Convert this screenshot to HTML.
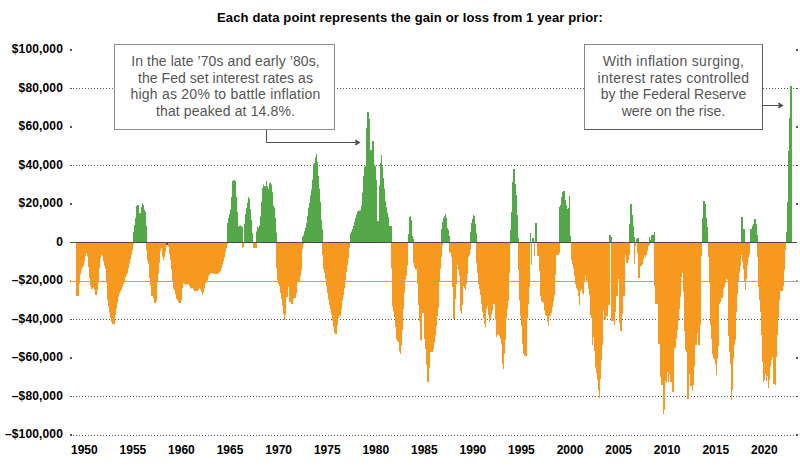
<!DOCTYPE html>
<html><head><meta charset="utf-8"><style>
html,body{margin:0;padding:0;background:#fff;}
body{width:800px;height:471px;overflow:hidden;position:relative;font-family:"Liberation Sans",sans-serif;}
.t{position:absolute;white-space:nowrap;}
.title{left:0;width:820px;text-align:center;top:9.6px;font-size:13px;font-weight:bold;color:#000;letter-spacing:0.13px;line-height:16px;}
.yl{position:absolute;right:737px;font-size:12px;font-weight:bold;color:#000;line-height:12px;white-space:nowrap;letter-spacing:0.15px;}
.xl{position:absolute;font-size:12px;font-weight:bold;color:#000;line-height:12px;top:444px;}
.box{position:absolute;border:1px solid #8e8e92;background:#fff;box-sizing:border-box;color:#555;font-size:14px;line-height:16.7px;text-align:center;}
svg{position:absolute;left:0;top:0;}
</style></head><body>
<svg width="800" height="471" viewBox="0 0 800 471">
<g fill="#575757">
<rect x="70" y="49" width="2" height="2"/><rect x="796" y="49" width="2" height="2"/>
<rect x="70" y="88" width="2" height="1"/><rect x="796" y="88" width="2" height="1"/>
<path d="M73 88.5H796" stroke="#575757" stroke-width="1" stroke-dasharray="1 2" fill="none"/>
<rect x="70" y="126" width="2" height="2"/><rect x="796" y="126" width="2" height="2"/>
<rect x="70" y="165" width="2" height="1"/><rect x="796" y="165" width="2" height="1"/>
<path d="M73 165.5H796" stroke="#575757" stroke-width="1" stroke-dasharray="1 2" fill="none"/>
<rect x="70" y="203" width="2" height="2"/><rect x="796" y="203" width="2" height="2"/>
<rect x="70" y="319" width="2" height="1"/><rect x="796" y="319" width="2" height="1"/>
<path d="M73 319.5H796" stroke="#575757" stroke-width="1" stroke-dasharray="1 2" fill="none"/>
<rect x="70" y="357" width="2" height="2"/><rect x="796" y="357" width="2" height="2"/>
<rect x="70" y="396" width="2" height="1"/><rect x="796" y="396" width="2" height="1"/>
<path d="M73 396.5H796" stroke="#575757" stroke-width="1" stroke-dasharray="1 2" fill="none"/>
<rect x="70" y="434" width="2" height="2"/><rect x="796" y="434" width="2" height="2"/>
<path d="M73 435.5H796" stroke="#575757" stroke-width="1" stroke-dasharray="1 2" fill="none"/>
</g>
<path d="M76 243V296H77V296H78V296H79V283.2H80V274.3H81V269.7H82V267.6H83V266.2H84V261.2H85V256.3H86V252.9H87V256.6H88V267.1H89V278H90V286H91V289H92V288.7H93V287H94V289.7H95V295H96V295H97V290H98V282.8H99V268H100V258.6H101V255H102V256.3H103V261.7H104V265.8H105V268.8H106V282.8H107V299.8H108V306.4H109V312.7H110V318H111V322H112V324H113V324H114V324H115V314.8H116V308.5H117V302.4H118V296.7H119V293.6H120V291.2H121V289.5H122V286.8H123V283.8H124V280.7H125V277.6H126V275.3H127V273.2H128V268.5H129V263.5H130V259.2H131V254.7H132V250H133V244.2H134V243ZM146 243V250.2H147V260.6H148V263.7H149V277.9H150V285.5H151V296H152V296H153V298H154V303H155V303H156V301H157V282.5H158V274H159V263H160V251H161V248H162V256.4H163V260H164V257.3H165V251.5H166V246.5H167V243.3H168V246.8H169V253.9H170V260.2H171V269.6H172V281.3H173V288.5H174V290.5H175V294.5H176V298.7H177V300H178V302H179V303H180V303H181V300H182V288H183V283H184V283.8H185V284.6H186V284.8H187V284.5H188V284.1H189V285.8H190V288.2H191V288.6H192V288.1H193V289.8H194V291H195V291H196V291H197V291H198V289.8H199V288.3H200V289.7H201V291.8H202V294.7H203V292.4H204V288.3H205V283.7H206V282.2H207V280.6H208V276.6H209V274.6H210V273.5H211V273H212V273H213V273.8H214V274H215V274H216V274H217V274H218V273.3H219V272.3H220V270.9H221V268H222V264.5H223V261.2H224V257.5H225V252.1H226V247.9H227V243.9H228V243ZM242 243V247.5H243V247.5H244V243ZM253 243V248H254V248H255V248H256V248H257V243ZM276 243V268H277V280H278V284H279V286H280V293H281V299H282V306H283V314H284V320H285V314.7H286V297H287V297H288V287H289V302H290V302H291V304H292V304H293V299H294V298H295V298H296V293.5H297V282H298V281.8H299V281.7H300V275.7H301V269.7H302V249H303V244H304V243ZM322 243V255H323V269H324V273H325V279H326V286.3H327V293.3H328V299.4H329V304.9H330V309.2H331V314.8H332V320.8H333V327.1H334V332.5H335V334H336V334H337V325H338V318H339V315.1H340V316H341V309.3H342V300.8H343V295.2H344V288.4H345V279.8H346V272.1H347V265.2H348V258.3H349V248H350V243ZM391 243V268.5H392V306.5H393V311.6H394V317H395V327H396V338.9H397V341.3H398V342H399V351.5H400V354H401V345.5H402V330H403V309H404V293.3H405V279.4H406V275.7H407V265.5H408V243ZM413 243V263H414V267.4H415V269.6H416V269.6H417V284H418V305H419V321.3H420V340H421V340H422V313H423V313H424V339H425V349H426V364.5H427V382H428V382H429V368H430V352H431V352H432V352H433V348.9H434V342.6H435V335.6H436V326H437V315.9H438V307.8H439V281H440V269H441V257H442V245.2H443V243ZM449 243V252H450V253H451V257H452V287H453V319H454V319H455V299H456V284H457V265H458V270H459V276H460V311H461V314H462V305H463V286H464V288H465V290H466V284H467V274H468V257H469V255H470V250H471V243ZM476 243V263H477V273.1H478V284H479V289H480V295.1H481V304H482V311.7H483V317.5H484V323.8H485V327.2H486V309H487V306.3H488V315H489V321.8H490V319.6H491V314.8H492V310.5H493V304H494V304H495V319.5H496V337H497V335H498V334.3H499V336H500V338.8H501V344.6H502V364.1H503V369H504V354H505V340H506V318.2H507V308.9H508V300.7H509V273.2H510V244H511V243ZM518 243V270H519V300.6H520V316.1H521V325.8H522V344.2H523V353.5H524V356H525V356H526V356H527V318.6H528V304.4H529V287H530V243ZM531 243V265H532V243ZM534 243V256H535V243ZM537 243V256H538V256H539V271H540V296H541V301.3H542V302H543V302.8H544V310.4H545V315.3H546V315.8H547V321.2H548V326H549V316H550V316H551V313H552V307H553V301H554V295H555V275H556V255H557V255H558V255H559V252.8H560V243ZM571 243V259.9H572V264.5H573V268.5H574V276.3H575V284.3H576V287.7H577V290H578V296.3H579V305.2H580V290.7H581V289.3H582V293H583V294.4H584V281.3H585V275.5H586V280.5H587V282H588V288.7H589V295.3H590V315.2H591V318H592V345.2H593V337.2H594V350.9H595V367.6H596V372.9H597V379.9H598V390.6H599V398H600V379H601V360H602V345H603V310H604V319.5H605V319.5H606V316H607V316H608V305H609V305H610V243ZM611 243V321H612V321H613V321H614V325H615V312H616V296H617V296H618V279H619V323H620V331H621V331H622V314H623V296H624V296H625V255H626V263H627V263H628V260H629V255H630V243ZM634 243V264H635V246H636V243ZM637 243V253.4H638V278H639V278H640V266H641V266H642V264H643V259.3H644V255.2H645V257.5H646V255.1H647V250.8H648V245.9H649V245H650V243ZM654 243V286H655V304H656V304H657V304H658V344H659V344H660V377H661V385H662V385H663V414H664V410H665V381H666V383H667V372H668V382H669V374H670V382H671V382H672V392H673V392H674V348.2H675V348.1H676V338.7H677V330H678V320.7H679V309H680V297H681V277H682V273H683V292H684V331.3H685V350H686V352H687V399H688V399H689V374H690V386H691V386H692V391H693V385H694V366H695V345H696V345H697V333H698V345H699V345H700V325H701V256H702V243ZM708 243V257H709V283H710V325.3H711V338.9H712V354.3H713V358.6H714V359.4H715V364.3H716V375H717V358.7H718V346.2H719V304H720V302H721V298H722V298H723V289H724V287H725V283H726V279H727V280H728V336H729V352H730V363.9H731V400H732V390.3H733V358.5H734V345.3H735V340H736V312H737V294.5H738V282H739V273H740V266H741V255H742V261.7H743V269.5H744V282H745V290H746V279H747V265H748V258H749V254H750V243ZM757 243V257H758V287H759V300H760V312H761V335H762V362H763V382H764V380H765V374H766V381H767V376H768V388H769V380H770V366H771V360H772V357H773V384H774V384H775V385H776V357H777V335H778V318H779V300H780V291H781V291H782V291H783V286H784V270H785V250H786V243Z" fill="#f7991f"/>
<path d="M133 242V232H134V225H135V218H136V206H137V205H138V205H139V213H140V213H141V207H142V203H143V205H144V210H145V212H146V226H147V242ZM227 242V223H228V218H229V214H230V209.5H231V197H232V181H233V180.3H234V180H235V181H236V197H237V211.9H238V226.5H239V225.7H240V225.6H241V226.3H242V227H243V242ZM244 242V223.8H245V214H246V207.7H247V202.7H248V197.1H249V199H250V209H251V219.9H252V233H253V242ZM256 242V231.5H257V226.4H258V227.7H259V225.5H260V216.5H261V202H262V188H263V184.5H264V186H265V186.3H266V181H267V186.6H268V189.1H269V183.2H270V182.5H271V184.5H272V192.2H273V205.6H274V207.6H275V218H276V232.4H277V242ZM302 242V236.7H303V235.2H304V231.2H305V227.8H306V223.1H307V215.7H308V207.8H309V202.9H310V195.6H311V189.6H312V179.7H313V164H314V163.1H315V157.3H316V154H317V162H318V175.8H319V188.5H320V201.8H321V219.7H322V229.5H323V242ZM350 242V233.5H351V231.5H352V229H353V226H354V222H355V218H356V214.5H357V211.5H358V210.8H359V210.5H360V210.2H361V205.5H362V192.5H363V176H364V167H365V166H366V128H367V112H368V112H369V119H370V150H371V150H372V141H373V141H374V164.4H375V166.2H376V180H377V221H378V221H379V185.5H380V162.8H381V155H382V166.8H383V178H384V188.8H385V201.2H386V207.2H387V212.8H388V217H389V226H390V226H391V226H392V242ZM408 242V234H409V217H410V216H411V220H412V236H413V239H414V242ZM441 242V229H442V222H443V218H444V216H445V214H446V218H447V228H448V230H449V236H450V242ZM470 242V232H471V223H472V219H473V215H474V216H475V224H476V233H477V242ZM510 242V230H511V212H512V182H513V169H514V169H515V184H516V195H517V215H518V238H519V242ZM530 242V233H531V242ZM532 242V238H533V238H534V242ZM535 242V223H536V223H537V242ZM559 242V207H560V205H561V197H562V192H563V191H564V191H565V200H566V205H567V209H568V208H569V196H570V236H571V242ZM609 242V235H610V235H611V237H612V242ZM629 242V224H630V204H631V204H632V215H633V226H634V237H635V242ZM636 242V239H637V238H638V238H639V242ZM649 242V237H650V240H651V235H652V235H653V235H654V232H655V242ZM702 242V218H703V201H704V201H705V204H706V218H707V227H708V242ZM741 242V217H742V217H743V229H744V229H745V242ZM750 242V229H751V229H752V226H753V224H754V219H755V219H756V224H757V235H758V242ZM786 242V232H787V202H788V151H789V118H790V86H791V86H792V242Z" fill="#55a84a"/>
<rect x="70" y="242" width="727" height="1" fill="#4a4a4a"/>
<rect x="166.6" y="243" width="1.2" height="2" fill="#1a1a1a"/>
<rect x="70" y="281" width="728" height="1" fill="#f7991f"/>
<rect x="70" y="280" width="1" height="1" fill="#f7991f"/>
<rect x="796" y="280" width="2" height="2" fill="#f7991f"/>
<path d="M266.5 130V142.5H358" fill="none" stroke="#505050" stroke-width="1"/>
<path d="M355.2 140.2L358.9 142.5L355.2 144.8" fill="none" stroke="#505050" stroke-width="1.8" stroke-linejoin="miter"/>
<path d="M763 105.5H781" fill="none" stroke="#505050" stroke-width="1"/>
<path d="M778.3 103.2L782 105.5L778.3 107.8" fill="none" stroke="#505050" stroke-width="1.8" stroke-linejoin="miter"/>
</svg>
<div class="t title">Each data point represents the gain or loss from 1 year prior:</div>
<div class="yl" style="top:43.0px">$100,000</div>
<div class="yl" style="top:82.0px">$80,000</div>
<div class="yl" style="top:120.0px">$60,000</div>
<div class="yl" style="top:159.0px">$40,000</div>
<div class="yl" style="top:197.0px">$20,000</div>
<div class="yl" style="top:236.0px">0</div>
<div class="yl" style="top:274.0px">&#8211;$20,000</div>
<div class="yl" style="top:313.0px">&#8211;$40,000</div>
<div class="yl" style="top:351.0px">&#8211;$60,000</div>
<div class="yl" style="top:390.0px">&#8211;$80,000</div>
<div class="yl" style="top:428.0px">&#8211;$100,000</div>
<div class="xl" style="left:71.0px">1950</div>
<div class="xl" style="left:119.6px">1955</div>
<div class="xl" style="left:168.1px">1960</div>
<div class="xl" style="left:216.7px">1965</div>
<div class="xl" style="left:265.3px">1970</div>
<div class="xl" style="left:313.9px">1975</div>
<div class="xl" style="left:362.4px">1980</div>
<div class="xl" style="left:411.0px">1985</div>
<div class="xl" style="left:459.6px">1990</div>
<div class="xl" style="left:508.1px">1995</div>
<div class="xl" style="left:556.7px">2000</div>
<div class="xl" style="left:605.3px">2005</div>
<div class="xl" style="left:653.8px">2010</div>
<div class="xl" style="left:702.4px">2015</div>
<div class="xl" style="left:751.0px">2020</div>
<div class="box" style="left:114px;top:44px;width:221px;height:86px;padding-top:8px;padding-left:2px;"><div style="letter-spacing:0.08px">In the late &#8217;70s and early &#8217;80s,</div><div style="letter-spacing:0.05px">the Fed set interest rates as</div><div style="letter-spacing:0.23px">high as 20% to battle inflation</div><div style="letter-spacing:0.14px">that peaked at 14.8%.</div></div>
<div class="box" style="left:584px;top:44px;width:179px;height:86px;padding-top:8px;border-color:#8a8a8a #5a5a5a #5a5a5a #8a8a8a;"><div style="letter-spacing:0.33px">With inflation surging,</div><div style="letter-spacing:0.25px">interest rates controlled</div><div style="letter-spacing:0px">by the Federal Reserve</div><div style="letter-spacing:0px">were on the rise.</div></div>
</body></html>
